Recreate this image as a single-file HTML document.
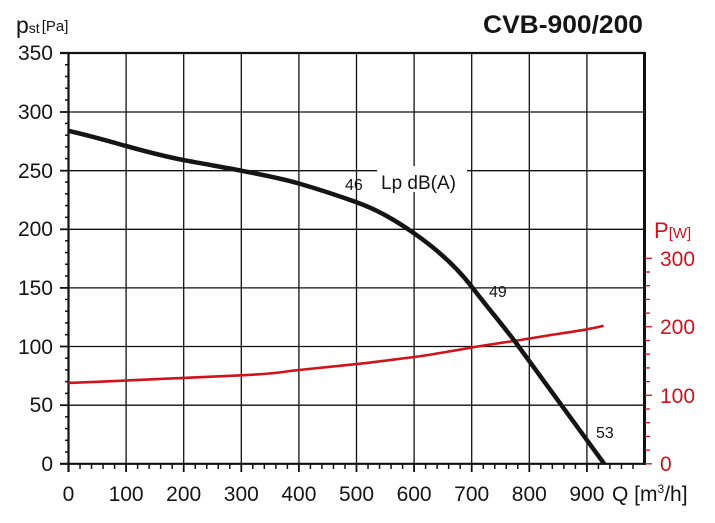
<!DOCTYPE html>
<html><head><meta charset="utf-8"><style>
html,body{margin:0;padding:0;background:#fff;}
svg{display:block;font-family:"Liberation Sans",Arial,sans-serif;}
</style></head><body>
<svg width="715" height="523" viewBox="0 0 715 523" xmlns="http://www.w3.org/2000/svg">
<rect width="715" height="523" fill="#fff"/>
<g stroke="#111" stroke-width="1.3">
<line x1="126.1" y1="53" x2="126.1" y2="464"/>
<line x1="183.7" y1="53" x2="183.7" y2="464"/>
<line x1="241.3" y1="53" x2="241.3" y2="464"/>
<line x1="298.9" y1="53" x2="298.9" y2="464"/>
<line x1="356.5" y1="53" x2="356.5" y2="464"/>
<line x1="414.1" y1="53" x2="414.1" y2="464"/>
<line x1="471.7" y1="53" x2="471.7" y2="464"/>
<line x1="529.3" y1="53" x2="529.3" y2="464"/>
<line x1="586.9" y1="53" x2="586.9" y2="464"/>
<line x1="68.5" y1="112" x2="644.5" y2="112"/>
<line x1="68.5" y1="170.7" x2="644.5" y2="170.7"/>
<line x1="68.5" y1="229.3" x2="644.5" y2="229.3"/>
<line x1="68.5" y1="287.9" x2="644.5" y2="287.9"/>
<line x1="68.5" y1="346.5" x2="644.5" y2="346.5"/>
<line x1="68.5" y1="405.2" x2="644.5" y2="405.2"/>
</g>
<g stroke="#111" stroke-width="2.2" fill="none">
<line x1="60" y1="53" x2="645" y2="53"/>
<line x1="60" y1="463.8" x2="645" y2="463.8"/>
<line x1="68.5" y1="52" x2="68.5" y2="472"/>
<line x1="644.5" y1="52" x2="644.5" y2="465" stroke-width="3"/>
</g>
<g stroke="#111" stroke-width="1.8">
<line x1="60" y1="112" x2="68" y2="112"/><line x1="60" y1="170.7" x2="68" y2="170.7"/>
<line x1="60" y1="229.3" x2="68" y2="229.3"/><line x1="60" y1="287.9" x2="68" y2="287.9"/>
<line x1="60" y1="346.5" x2="68" y2="346.5"/><line x1="60" y1="405.2" x2="68" y2="405.2"/>
</g>
<g id="ticks"></g>
<script>
(function(){
var ns="http://www.w3.org/2000/svg",g=document.getElementById("ticks");
function L(x1,y1,x2,y2,c,w){var l=document.createElementNS(ns,"line");l.setAttribute("x1",x1);l.setAttribute("y1",y1);l.setAttribute("x2",x2);l.setAttribute("y2",y2);l.setAttribute("stroke",c);l.setAttribute("stroke-width",w);g.appendChild(l);}
for(var p=10;p<350;p+=10){if(p%50==0)continue;var y=463.8-p*1.1737;L(65,y,69,y,"#111",1.5);}
for(var q=20;q<1000;q+=20){var x=68.5+q*0.576;if(q%100==0)L(x,464,x,472,"#111",1.8);else L(x,464,x,469,"#111",1.5);}
for(var w=0;w<=300;w+=20){var y=463.8-w*0.685;L(645,y,w%100==0?652:650,y,"#d0121b",1.3);}
})();
</script>
<path d="M68.5,382.9 C100,381.8 126,380.5 126.1,380.5 S200,377.3 241.3,375.3 S275,372.5 298.9,370 S340,365.8 356.5,364.1 S400,358.7 414.1,357 S460,349.6 471.7,347.5 S510,341.8 529.3,338.5 S575,331.5 586.9,329.3 S600,326.6 603.6,325.7" fill="none" stroke="#d0121b" stroke-width="2.6"/>
<path d="M68.5,130.8 C95,137 110,141.5 126.1,146 S165,156.5 183.7,160.1 S225,167.5 241.3,170.7 S280,178 298.9,183.5 S335,194.5 356.5,202.3 S395,220 414.1,233.3 S455,265 471.7,286.7 S505,328 516.1,343 L604.2,463.8" fill="none" stroke="#151515" stroke-width="4.5"/>
<rect x="377" y="166" width="90" height="26" fill="#fff"/>
<text x="381" y="189" font-size="19" fill="#151515">Lp dB(A)</text>
<text x="345" y="190" font-size="16" fill="#151515">46</text>
<text x="489" y="297" font-size="16" fill="#151515">49</text>
<text x="596" y="438" font-size="16" fill="#151515">53</text>
<g font-size="21" fill="#151515" text-anchor="end">
<text x="53" y="60">350</text><text x="53" y="119">300</text><text x="53" y="178">250</text>
<text x="53" y="236">200</text><text x="53" y="295">150</text><text x="53" y="354">100</text>
<text x="53" y="412">50</text><text x="53" y="471">0</text>
</g>
<g font-size="21" fill="#151515" text-anchor="middle">
<text x="68.5" y="501">0</text><text x="126.1" y="501">100</text><text x="183.7" y="501">200</text>
<text x="241.3" y="501">300</text><text x="298.9" y="501">400</text><text x="356.5" y="501">500</text>
<text x="414.1" y="501">600</text><text x="471.7" y="501">700</text><text x="529.3" y="501">800</text>
<text x="586.9" y="501">900</text>
</g>
<text x="612" y="501" font-size="21" fill="#151515">Q [m<tspan font-size="12" dy="-8">3</tspan><tspan dy="8">/h]</tspan></text>
<g font-size="21" fill="#d0121b">
<text x="660" y="266">300</text><text x="660" y="334">200</text>
<text x="660" y="403">100</text><text x="660" y="471">0</text>
<text x="654" y="238" font-size="22">P<tspan font-size="15">[W]</tspan></text>
</g>
<text x="16" y="33" font-size="23" fill="#151515">p<tspan font-size="14">st</tspan><tspan font-size="15" dx="2" dy="-2">[Pa]</tspan></text>
<text x="483" y="33" font-size="25" font-weight="bold" fill="#151515" textLength="160" lengthAdjust="spacingAndGlyphs">CVB-900/200</text>
</svg>
</body></html>
